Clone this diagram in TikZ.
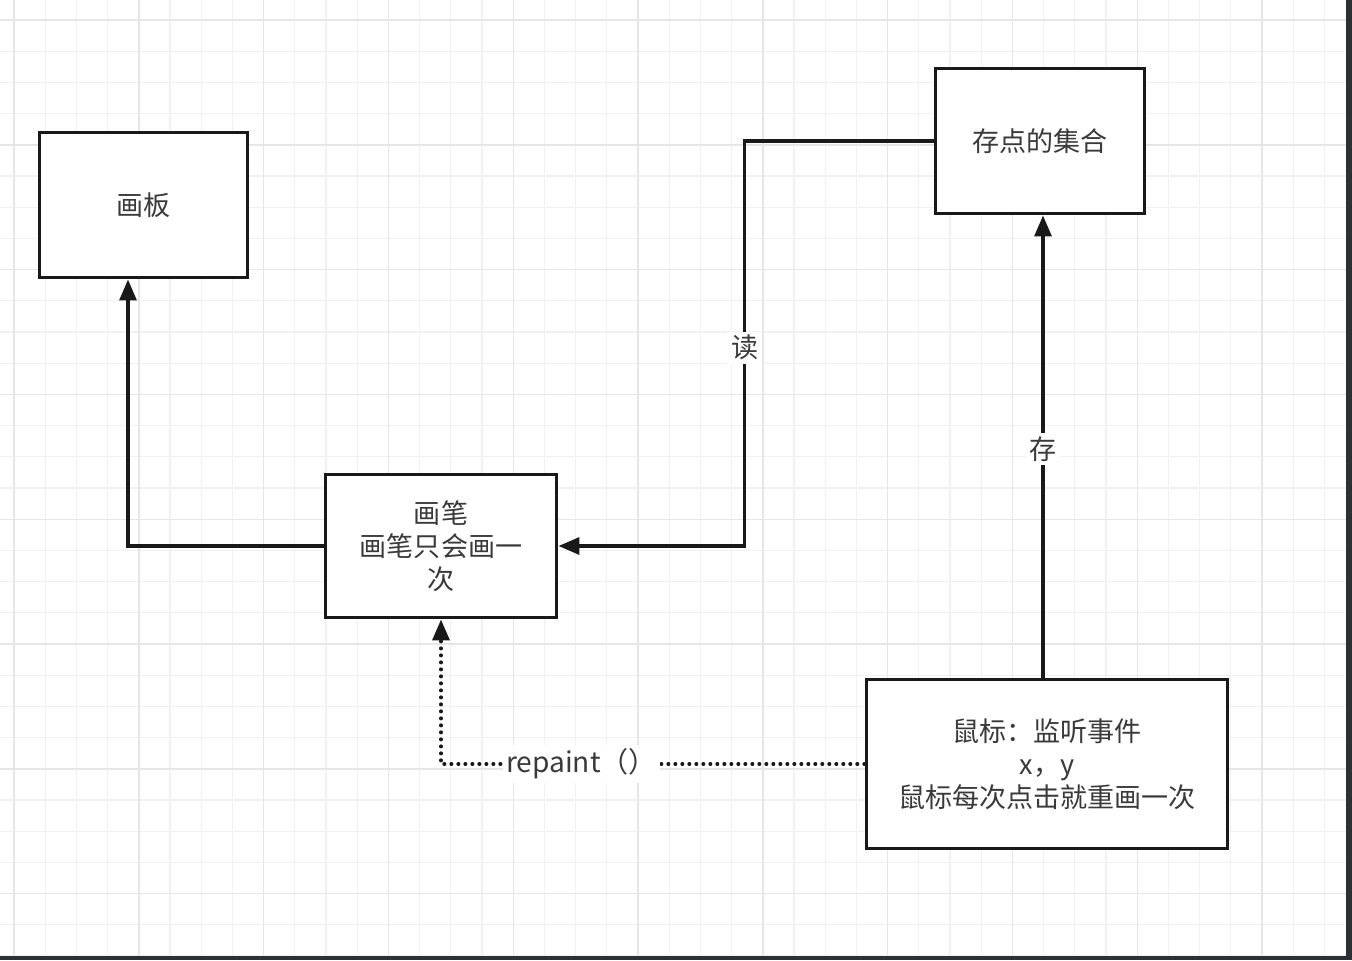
\documentclass[tikz,border=0pt]{standalone}
\usepackage{fontspec}
\setmainfont{Noto Sans CJK SC}
\usepackage{tikz}
\usetikzlibrary{arrows.meta, positioning}

\definecolor{gridminor}{HTML}{F1F1F1}
\definecolor{gridmajor}{HTML}{E6E6E6}
\definecolor{inktext}{HTML}{3A3A3A}
\definecolor{edgebar}{HTML}{2E3134}

\begin{document}
\begin{tikzpicture}[
    x=0.02cm, y=-0.02cm,
    box/.style={rectangle, draw=black!90, line width=0.06cm, fill=white,
                align=center, text=inktext,
                font=\fontsize{15.4}{18.8}\selectfont},
    arrow/.style={-{Triangle[length=0.42cm, width=0.34cm]},
                  line width=0.065cm, draw=black!90},
    dotline/.style={line width=0.07cm, dash pattern=on 0.01cm off 0.13cm,
                    line cap=round},
    lbl/.style={fill=white, text=inktext, inner sep=2pt,
                font=\fontsize{15.4}{18.8}\selectfont}
]
  % page and grid
  \useasboundingbox (0,0) rectangle (1352,960);
  \fill[white] (0,0) rectangle (1352,960);
  \foreach \i in {0,...,43} {
    \draw[gridminor, line width=0.6pt] (14+31.2*\i,0) -- (14+31.2*\i,960);
  }
  \foreach \j in {0,...,30} {
    \draw[gridminor, line width=0.6pt] (0,20+31.2*\j) -- (1352,20+31.2*\j);
  }
  \foreach \i in {0,4,...,40} {
    \draw[gridmajor, line width=0.8pt] (14+31.2*\i,0) -- (14+31.2*\i,960);
  }
  \foreach \j in {0,4,...,28} {
    \draw[gridmajor, line width=0.8pt] (0,20+31.2*\j) -- (1352,20+31.2*\j);
  }
  \fill[edgebar] (1346,0) rectangle (1352,960);
  \fill[edgebar] (0,956) rectangle (1352,960);

  % nodes
  \node[box, minimum width=4.18cm, minimum height=2.92cm] (board)
    at (143.5,205) {画板};

  \node[box, minimum width=4.2cm, minimum height=2.92cm] (pointset)
    at (1040,141) {存点的集合};

  \node[box, minimum width=4.64cm, minimum height=2.88cm] (pen)
    at (441,546) {画笔\\画笔只会画一\\次};

  \node[box, minimum width=7.24cm, minimum height=3.4cm] (mouse)
    at (1047,764) {鼠标：监听事件\\x，y\\鼠标每次点击就重画一次};

  % connectors
  \draw[arrow] (pen.west) -| ([xshift=-0.31cm]board.south);
  \draw[arrow] (pointset.west) -- ++(-189,0)
    |- node[lbl, pos=0.255] {读} (pen.east);
  \draw[arrow] ([xshift=0.06cm]pointset.south |- mouse.north)
    -- node[lbl, pos=0.495] {存} ([xshift=0.06cm]pointset.south);
  \draw[arrow, dotline] (mouse.west)
    -| node[lbl, pos=0.334, font=\fontsize{16}{19}\selectfont] {repaint（）} (pen.south);
\end{tikzpicture}
\end{document}
